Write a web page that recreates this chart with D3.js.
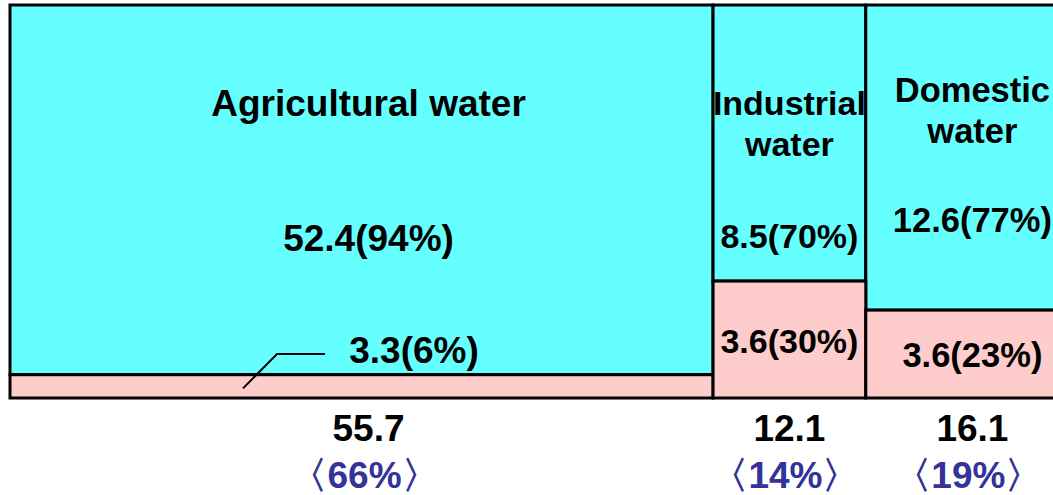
<!DOCTYPE html>
<html><head><meta charset="utf-8">
<script src="https://cdn.jsdelivr.net/npm/d3@7/dist/d3.min.js"></script>
<style>
html,body{margin:0;padding:0;background:#fff;overflow:hidden;}
text{font-family:"Liberation Sans",Arial,sans-serif;font-weight:bold;}
</style></head>
<body>
<svg id="chart" width="1053" height="495"></svg>
<script>
// ---- data ----
const categories = ["Agricultural water", "Industrial water", "Domestic water"];
const nameLines = [["Agricultural water"], ["Industrial", "water"], ["Domestic", "water"]];
const totals = [55.7, 12.1, 16.1];
const totalShares = ["66%", "14%", "19%"];
const upperValues = [52.4, 8.5, 12.6];      // cyan segment
const upperShares = ["94%", "70%", "77%"];
const lowerValues = [3.3, 3.6, 3.6];        // pink segment
const lowerShares = ["6%", "30%", "23%"];

(function () {
// ---- layout ----
const svg = d3.select("#chart");
const mLeft = 10, mRight = 1069, mTop = 5, mBottom = 398;
const colorUpper = "#66FFFF", colorLower = "#FFCCCC", blue = "#333399";
const fs = 37;
const inFs = [37, 34, 34.5];   // in-column text size

const cum = [0];
totals.forEach((t, i) => cum.push(cum[i] + t));
const x = d3.scaleLinear().domain([0, d3.sum(totals)]).range([mLeft, mRight]);
const y = d3.scaleLinear().domain([0, 1]).range([mBottom, mTop]);

const cols = categories.map((c, i) => {
  const frac = lowerValues[i] / totals[i];
  return {i, x0: x(cum[i]), x1: x(cum[i + 1]), frac};
});

const g = svg.append("g");
g.selectAll("rect.up").data(cols).join("rect").attr("class", "up")
  .attr("x", d => d.x0).attr("width", d => d.x1 - d.x0)
  .attr("y", y(1)).attr("height", d => y(d.frac) - y(1))
  .attr("fill", colorUpper).attr("stroke", "#000").attr("stroke-width", 3);
g.selectAll("rect.low").data(cols).join("rect").attr("class", "low")
  .attr("x", d => d.x0).attr("width", d => d.x1 - d.x0)
  .attr("y", d => y(d.frac)).attr("height", d => y(0) - y(d.frac))
  .attr("fill", colorLower).attr("stroke", "#000").attr("stroke-width", 3);

const nameY = [[116], [115, 156], [102, 143]];
const upperY = [251, 248, 232];
const centerShift = [7, 0, 5];

cols.forEach(d => {
  const cx = (d.x0 + d.x1) / 2 + centerShift[d.i];
  nameLines[d.i].forEach((ln, k) => {
    svg.append("text").attr("x", cx).attr("y", nameY[d.i][k])
      .attr("text-anchor", "middle").attr("font-size", inFs[d.i]).attr("fill", "#000").text(ln);
  });
  svg.append("text").attr("x", cx).attr("y", upperY[d.i])
    .attr("text-anchor", "middle").attr("font-size", inFs[d.i]).attr("fill", "#000")
    .text(`${upperValues[d.i]}(${upperShares[d.i]})`);
  svg.append("text").attr("x", cx).attr("y", 441)
    .attr("text-anchor", "middle").attr("font-size", fs).attr("fill", "#000")
    .text(totals[d.i].toFixed(1));
  svg.append("text").attr("x", cx - 4).attr("y", 488)
    .attr("text-anchor", "middle").attr("font-size", fs).attr("fill", blue)
    .text(`〈${totalShares[d.i]}〉`);
});

cols.forEach(d => {
  const cx = (d.x0 + d.x1) / 2 + centerShift[d.i];
  const txt = `${lowerValues[d.i]}(${lowerShares[d.i]})`;
  if (d.i === 0) {
    svg.append("text").attr("x", 414).attr("y", 363).attr("text-anchor", "middle")
      .attr("font-size", fs).attr("fill", "#000").text(txt);
    const segMid = (y(d.frac) + y(0)) / 2;
    svg.append("path")
      .attr("d", `M325,354 L277,354 L243,${segMid + 2}`)
      .attr("fill", "none").attr("stroke", "#000").attr("stroke-width", 2);
  } else {
    const cy = (y(d.frac) + y(0)) / 2;
    svg.append("text").attr("x", cx).attr("y", cy + 13).attr("text-anchor", "middle")
      .attr("font-size", inFs[d.i]).attr("fill", "#000").text(txt);
  }
});
})();
</script>
</body></html>
